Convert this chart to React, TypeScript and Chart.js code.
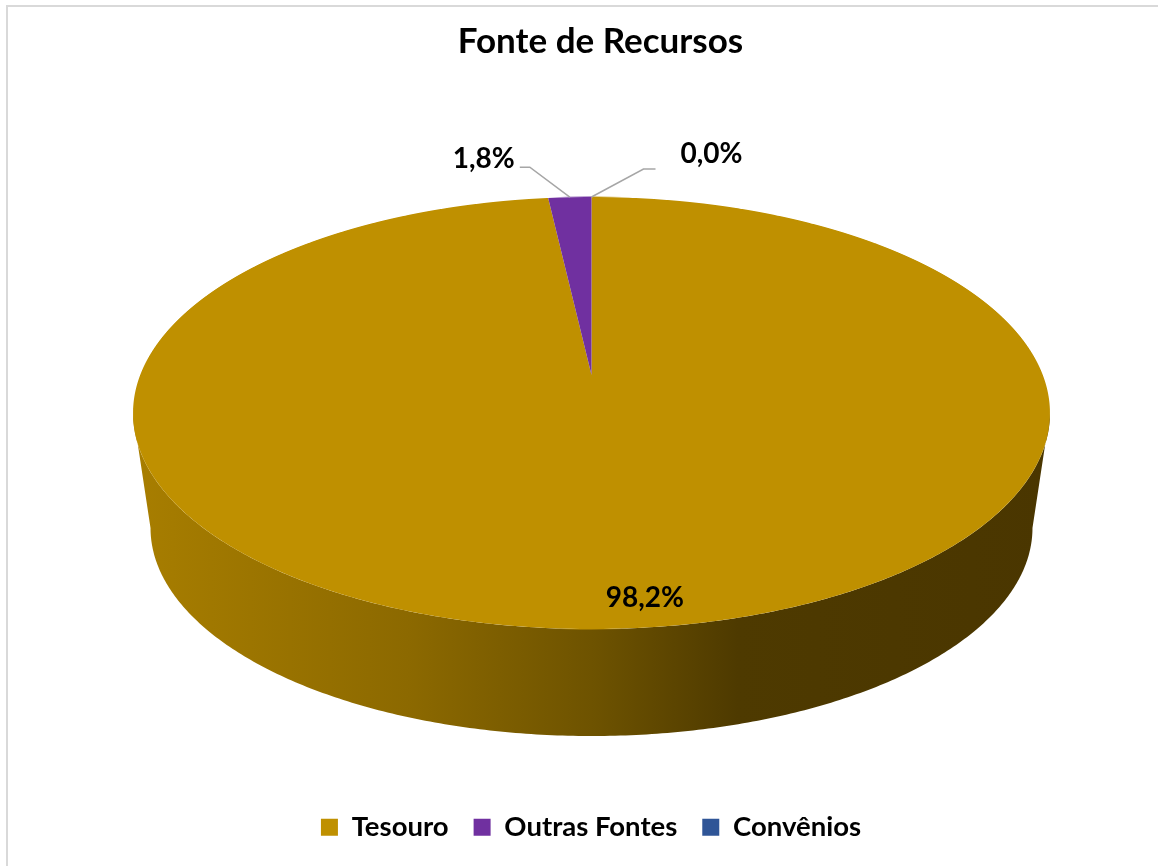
import React, { useEffect, useRef } from 'react';
import { Chart, registerables } from 'chart.js';

Chart.register(...registerables);

// ---- data ----
const categories: string[] = ['Tesouro', 'Outras Fontes', 'Convênios'];
const shares: number[] = [98.2, 1.8, 0.0];
const sliceColors: string[] = ['#bf9000', '#7030a0', '#2f5597'];
const chartTitle = 'Fonte de Recursos';

// ---- style ----
const FONT = 'Lato, "Open Sans", "DejaVu Sans", sans-serif';
// 3D perspective view of the pie (top face and bottom face projections)
const VIEW = { cx: 591.5, R: 451.3, p: 143.35, q: 375, c: 0.176, Rb: 434.1, pb: 115.2, qb: 491.3 };
const SIDE_STOPS: [number, string][] = [
  [0, '#a87e00'],
  [0.3, '#8c6900'],
  [0.5, '#6e5300'],
  [0.66, '#4e3a00'],
  [1, '#4a3600'],
];

function topPt(u: number, v: number): [number, number] {
  const w = 1 - VIEW.c * v;
  return [VIEW.cx + (VIEW.R * u) / w, (VIEW.p * v + VIEW.q) / w];
}
function botPt(u: number, v: number): [number, number] {
  const w = 1 - VIEW.c * v;
  return [VIEW.cx + (VIEW.Rb * u) / w, (VIEW.pb * v + VIEW.qb) / w];
}

const fmt = (v: number) => v.toFixed(1).replace('.', ',') + '%';

const pie3d = {
  id: 'pie3d',
  beforeDraw(chart: any) {
    const ctx = chart.ctx;
    ctx.save();
    ctx.strokeStyle = '#d9d9d9';
    ctx.lineWidth = 2;
    ctx.strokeRect(7, 6, 1400, 1200);
    ctx.restore();
  },
  beforeDatasetsDraw(chart: any) {
    const ctx = chart.ctx as CanvasRenderingContext2D;
    const arcs = chart.getDatasetMeta(0).data as any[];
    if (!arcs.length) return false;
    const base = ctx.getTransform();

    // ---- side wall ----
    const halfW = VIEW.R / Math.sqrt(1 - VIEW.c * VIEW.c);
    const grad = ctx.createLinearGradient(VIEW.cx - halfW, 0, VIEW.cx + halfW, 0);
    SIDE_STOPS.forEach(([o, col]) => grad.addColorStop(o, col));
    const aS = Math.asin(VIEW.c);
    const aE = Math.PI - aS;
    arcs.forEach((arc: any) => {
      const { startAngle, endAngle } = arc.getProps(['startAngle', 'endAngle'], true);
      for (const k of [-1, 0, 1]) {
        const s = Math.max(startAngle + 2 * Math.PI * k, aS);
        const e = Math.min(endAngle + 2 * Math.PI * k, aE);
        if (e <= s) continue;
        const n = Math.max(2, Math.ceil((e - s) / 0.01));
        ctx.save();
        ctx.beginPath();
        for (let i = 0; i <= n; i++) {
          const a = s + ((e - s) * i) / n;
          const [x, y] = topPt(Math.cos(a), Math.sin(a));
          if (i === 0) ctx.moveTo(x, y);
          else ctx.lineTo(x, y);
        }
        for (let i = n; i >= 0; i--) {
          const a = s + ((e - s) * i) / n;
          const [x, y] = botPt(Math.cos(a), Math.sin(a));
          ctx.lineTo(x, y);
        }
        ctx.closePath();
        ctx.fillStyle = grad;
        ctx.fill();
        ctx.restore();
      }
    });

    // ---- top face: library arcs drawn row by row through the perspective mapping ----
    const { x: x0, y: y0, outerRadius: r } = arcs[0].getProps(['x', 'y', 'outerRadius'], true);
    const yTop = Math.floor(topPt(0, -1)[1]);
    const yBot = Math.ceil(topPt(0, 1)[1]);
    for (let y = yTop; y < yBot; y++) {
      const ym = y + 0.5;
      let v = (ym - VIEW.q) / (VIEW.p + VIEW.c * ym);
      v = Math.max(-1, Math.min(1, v));
      const w = 1 - VIEW.c * v;
      const sx = VIEW.R / w / r;
      const sy = (VIEW.p + VIEW.c * VIEW.q) / (w * w) / r;
      ctx.save();
      ctx.beginPath();
      ctx.rect(0, y, chart.width, 1);
      ctx.clip();
      ctx.setTransform(
        base.multiply(new DOMMatrix([sx, 0, 0, sy, VIEW.cx - sx * x0, ym - sy * (y0 + r * v)]))
      );
      arcs.forEach((a: any) => a.draw(ctx));
      ctx.restore();
    }
    return false;
  },
  afterDraw(chart: any) {
    const ctx = chart.ctx as CanvasRenderingContext2D;
    ctx.save();
    // title
    ctx.fillStyle = '#000';
    ctx.font = `bold 35px ${FONT}`;
    ctx.textAlign = 'center';
    ctx.textBaseline = 'alphabetic';
    ctx.fillText(chartTitle, 600.5, 53);

    // data labels
    const arcs = chart.getDatasetMeta(0).data as any[];
    ctx.font = `bold 28px ${FONT}`;
    arcs.forEach((arc: any, i: number) => {
      const { startAngle, endAngle } = arc.getProps(['startAngle', 'endAngle'], true);
      const mid = (startAngle + endAngle) / 2;
      const u = Math.cos(mid);
      const v = Math.sin(mid);
      const txt = fmt(shares[i]);
      if (shares[i] >= 5) {
        const [x, y] = topPt(0.9 * u, 0.9 * v);
        ctx.textAlign = 'center';
        ctx.textBaseline = 'middle';
        ctx.fillText(txt, x + 26, y);
      } else {
        const [x, y] = topPt(u, v);
        const left = u < -1e-6;
        ctx.strokeStyle = '#a6a6a6';
        ctx.lineWidth = 1.5;
        ctx.beginPath();
        ctx.moveTo(x, y);
        if (left) {
          ctx.lineTo(x - 40, y - 30);
          ctx.lineTo(x - 50, y - 30);
        } else {
          ctx.lineTo(x + 52, y - 28);
          ctx.lineTo(x + 64, y - 28);
        }
        ctx.stroke();
        ctx.textBaseline = 'alphabetic';
        if (left) {
          ctx.textAlign = 'right';
          ctx.fillText(txt, x - 55, y - 29);
        } else {
          ctx.textAlign = 'left';
          ctx.fillText(txt, x + 89, y - 34);
        }
      }
    });
    ctx.restore();
  },
};

export default function App() {
  const ref = useRef<HTMLCanvasElement | null>(null);
  useEffect(() => {
    if (!ref.current) return;
    const chart = new Chart(ref.current, {
      type: 'pie',
      data: {
        labels: categories,
        datasets: [
          {
            data: shares,
            backgroundColor: sliceColors,
            borderWidth: 0,
            hoverOffset: 0,
          },
        ],
      },
      options: {
        responsive: false,
        animation: false,
        devicePixelRatio: 1,
        layout: { padding: { left: 24, top: 90, bottom: 15 } },
        plugins: {
          title: { display: false },
          tooltip: { enabled: false },
          legend: {
            position: 'bottom',
            labels: {
              boxWidth: 17,
              boxHeight: 17,
              padding: 25,
              color: '#000',
              font: { family: FONT, size: 27.5, weight: 'bold' },
            },
          },
        },
      },
      plugins: [pie3d],
    } as any);
    return () => chart.destroy();
  }, []);
  return (
    <div style={{ position: 'absolute', left: 0, top: 0, width: 1158, height: 866, background: '#fff' }}>
      <canvas ref={ref} width={1158} height={866} style={{ display: 'block' }} />
    </div>
  );
}
